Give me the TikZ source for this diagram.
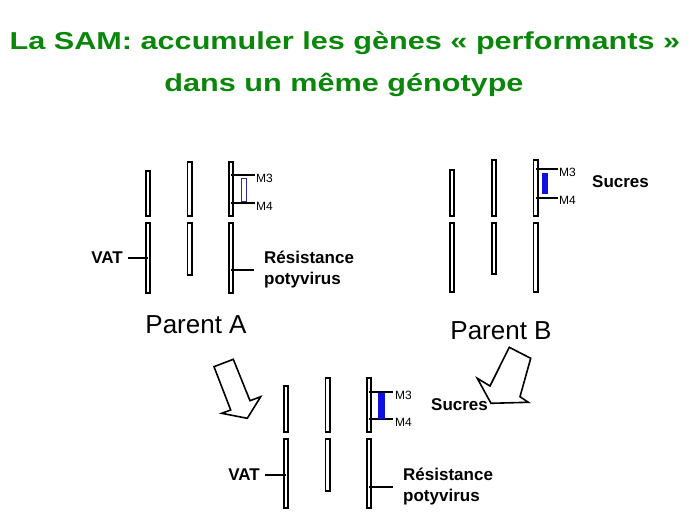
\documentclass[tikz,border=0pt]{standalone}
\usepackage{fontspec}
\setmainfont{Liberation Sans}
\usepackage{tikz}
\definecolor{green1}{HTML}{0A870A}
\definecolor{blue1}{HTML}{1010E0}
\definecolor{blue2}{HTML}{2828A0}
\tikzset{
  chrom/.style={draw, line width=1.8pt, fill=white, minimum width=4.2pt, inner sep=0pt},
  markline/.style={line width=1.6pt},
  lbl/.style={font=\bfseries\fontsize{17}{21}\selectfont, inner sep=2pt},
  mlbl/.style={font=\fontsize{12}{13}\selectfont, inner sep=1pt, anchor=west},
  parent/.style={font=\fontsize{26}{30}\selectfont},
  titlefont/.style={text=green1, font=\bfseries\fontsize{24.5}{30}\selectfont, anchor=base, xscale=1.25, transform shape},
  bigarrow/.style={draw, line width=1.6pt, fill=white, line join=miter}
}
\begin{document}
\begin{tikzpicture}[x=1pt,y=-1pt]
\useasboundingbox (0,0) rectangle (689,517);
% title
\node[titlefont] (title1) at (345,49) {La SAM: accumuler les gènes « performants »};
\node[titlefont] (title2) at (344,91) {dans un même génotype};
%
% Parent A
\node[chrom, minimum height=45.2pt] (A1a) at (148,193.5) {};
\node[chrom, minimum height=70.2pt] (A1b) at (148,258) {};
\node[chrom, minimum height=54.2pt] (A2a) at (189.5,189) {};
\node[chrom, minimum height=52.2pt] (A2b) at (189.5,249) {};
\node[chrom, minimum height=54.2pt] (A3a) at (231,189) {};
\node[chrom, minimum height=70.2pt] (A3b) at (231,258) {};
\node[mlbl] (m3A) at (255,178) {M3};
\node[mlbl] (m4A) at (255,206) {M4};
\draw[markline] (A3a.center |- 0,175) -- (255,175);
\draw[markline] (A3a.center |- 0,203) -- (255,203);
\node[draw=blue2, line width=1.1pt, minimum width=5pt, minimum height=23pt, inner sep=0pt] (blueA) at (244,190) {};
\node[lbl, anchor=east] (vatA) at (125,258) {VAT};
\draw[markline] (vatA.east) ++(3,0) -- (A1b.center |- vatA.east);
\node[lbl, anchor=west, align=left, inner xsep=10pt] (resA) at (254,270) {Résistance\\potyvirus};
\draw[markline] (A3b.center |- resA.west) -- (resA.west);
\node[parent] (parA) at (196,325) {Parent A};
%
% Parent B
\node[chrom, minimum height=46.2pt] (B1a) at (452,193) {};
\node[chrom, minimum height=69.2pt] (B1b) at (452,257.5) {};
\node[chrom, minimum height=56.2pt] (B2a) at (494,188) {};
\node[chrom, minimum height=51.2pt] (B2b) at (494,248.5) {};
\node[chrom, minimum height=56.2pt] (B3a) at (535.5,188) {};
\node[chrom, minimum height=69.2pt] (B3b) at (535.5,257.5) {};
\node[mlbl] (m3B) at (558,172) {M3};
\node[mlbl] (m4B) at (558,200.5) {M4};
\draw[markline] (B3a.center |- 0,169) -- (558,169);
\draw[markline] (B3a.center |- 0,198) -- (558,198);
\node[fill=blue1, minimum width=6pt, minimum height=21pt, inner sep=0pt] (blueB) at (545,183.5) {};
\node[lbl, anchor=west] (sucB) at (590,182) {Sucres};
\node[parent] (parB) at (501,331) {Parent B};
%
% descendant
\node[chrom, minimum height=46.2pt] (C1a) at (286,409) {};
\node[chrom, minimum height=69.2pt] (C1b) at (286,473.5) {};
\node[chrom, minimum height=54.2pt] (C2a) at (327.5,405) {};
\node[chrom, minimum height=52.2pt] (C2b) at (327.5,465) {};
\node[chrom, minimum height=54.2pt] (C3a) at (369,405) {};
\node[chrom, minimum height=69.2pt] (C3b) at (369,473.5) {};
\node[mlbl] (m3C) at (394,395) {M3};
\node[mlbl] (m4C) at (394,422) {M4};
\draw[markline] (C3a.center |- 0,392) -- (393,392);
\draw[markline] (C3a.center |- 0,419) -- (393,419);
\node[fill=blue1, minimum width=7pt, minimum height=26pt, inner sep=0pt] (blueC) at (381.5,406) {};
\node[lbl, anchor=west] (sucC) at (429,405) {Sucres};
\node[lbl, anchor=east] (vatC) at (262,475) {VAT};
\draw[markline] (vatC.east) ++(3,0) -- (C1b.center |- vatC.east);
\node[lbl, anchor=west, align=left, inner xsep=10pt] (resC) at (393,487) {Résistance\\potyvirus};
\draw[markline] (C3b.center |- resC.west) -- (resC.west);
%
% arrows
\draw[bigarrow] (214,366.7) -- (230.7,410) -- (221.7,413.3) -- (247.3,418.3) -- (260.7,396.7) -- (250,400.7) -- (233.3,359.3) -- cycle;
\draw[bigarrow] (509.3,347.3) -- (530.7,358.3) -- (520,396.7) -- (528.3,402.3) -- (491,403.3) -- (477.3,378.3) -- (490,386) -- cycle;
\end{tikzpicture}
\end{document}
